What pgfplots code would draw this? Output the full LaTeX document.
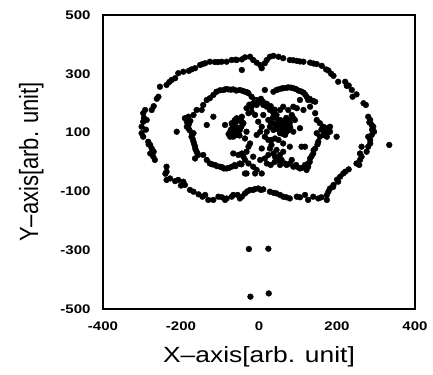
\documentclass[border=0pt]{standalone}
\usepackage{pgfplots}
\usepackage{pgfplotstable}
\usepackage{graphicx}
\usepackage{fontspec}
\setmainfont{Liberation Sans}
\pgfplotsset{compat=1.18}

% measured positions (x, y)
\pgfplotstableread{
x y
37 361
50 358
62 353
79 347
97 344
114 341
131 338
148 333
161 327
172 315
178 311
191 293
203 273
221 273
225 259
238 245
240 222
268 200
274 194
280 154
285 143
289 126
293 120
295 103
289 92
280 86
285 63
280 52
276 35
263 52
259 29
263 18
259 7
257 -10
221 -33
216 -39
208 -50
203 -67
191 -78
182 -90
178 -101
174 -112
174 -129
152 -124
139 -118
126 -129
118 -112
97 -118
79 -124
62 -118
54 -112
45 -107
28 -101
11 -93
-2 -90
-15 -95
-23 -95
-36 -107
-44 -118
-49 -124
-66 -112
-83 -124
-87 -129
-104 -118
-117 -129
-130 -129
-138 -112
-168 -101
-177 -95
-190 -78
-194 -67
-207 -61
-228 -56
-237 -61
-237 -33
-237 -16
-267 7
-271 18
-279 29
-275 46
-279 58
-284 69
-297 86
-301 98
-301 120
-297 137
-288 143
-297 166
-292 177
-275 177
-258 222
-254 256
-237 262
-224 279
-215 285
-207 302
-194 307
-173 315
-164 319
-151 330
-138 336
-126 341
-113 340
-96 341
-83 341
-70 347
-57 347
-44 349
-36 356
-23 358
-15 347
-6 338
3 330
7 319
15 336
20 347
28 358
-44 313
-290 110
-295 150
-283 60
-270 35
-240 -40
-215 -65
-200 -80
-155 -110
-145 -118
-95 -120
-70 -118
-55 -112
-30 -100
-10 -92
5 -95
38 -105
70 -120
105 -120
160 -120
190 -85
200 -60
230 -25
250 -5
285 75
290 110
283 135
250 230
230 260
185 300
140 335
105 342
88 346
-60 348
-105 340
-145 333
-180 310
-230 272
-262 215
-270 190
-126 217
-117 228
-109 239
-91 245
-79 247
-66 247
-49 245
-36 239
-27 234
-19 222
-10 211
-6 200
-100 244
-85 248
-72 246
-58 243
-42 242
-30 237
-134 211
-143 194
-147 177
-160 177
-168 160
-181 154
-190 149
-185 137
-185 120
-181 115
-211 103
-168 98
-173 86
-168 69
-164 52
-160 35
-156 24
-164 12
-143 24
-176 140
-180 128
-178 108
-172 95
-170 78
-166 60
-163 44
-158 30
-134 7
-126 -5
-113 -10
-100 -16
-83 -22
-70 -16
-62 -10
-49 -5
-120 -8
-108 -14
-94 -18
-77 -20
-60 -14
-45 -8
-90 -22
-36 7
-40 18
-44 29
-53 24
-66 29
-32 35
-27 52
-23 63
-15 18
-27 -5
-15 -16
-6 -27
7 -39
-10 -39
-36 -39
-134 126
-117 154
-87 126
-70 98
-74 103
-66 115
-70 132
-62 143
-57 149
-49 109
-57 92
-66 86
-74 86
-44 154
-44 137
-40 132
-32 103
-36 80
-72 110
-64 105
-60 120
-78 95
-68 125
-55 100
-62 130
-58 118
-52 112
-60 100
-66 95
-50 90
-45 120
-55 140
-48 145
-32 183
-19 188
-6 194
3 205
11 194
20 188
28 177
37 166
45 149
54 143
58 126
62 115
71 103
67 92
54 98
45 120
37 109
28 120
20 103
7 120
3 103
-6 92
-2 137
-10 160
-19 171
-27 166
11 160
24 143
15 86
24 75
32 58
28 46
37 29
45 41
54 24
50 7
41 18
24 24
7 46
15 12
20 -5
3 7
32 75
41 80
50 75
62 63
79 52
54 177
62 188
75 177
84 160
88 149
79 132
71 120
88 103
105 115
92 143
75 143
60 110
66 125
72 112
80 118
64 100
58 135
40 130
48 112
55 118
65 140
70 150
45 160
35 150
30 135
50 130
75 108
62 95
-5 210
5 215
10 205
-15 200
20 198
30 190
40 178
-25 195
15 245
37 239
50 247
62 251
75 254
88 251
101 243
114 236
122 222
126 211
144 205
45 245
58 250
70 252
82 253
95 248
108 240
118 230
130 215
138 208
105 211
88 188
97 183
114 177
131 188
144 166
148 143
156 132
165 120
174 115
182 120
178 103
174 86
182 103
199 86
148 98
156 86
152 69
144 46
139 29
131 12
126 -5
126 -16
122 -27
170 100
160 110
165 92
150 60
140 40
135 20
130 0
105 -22
97 -16
88 -16
79 -5
71 -10
58 7
54 -10
84 7
95 -10
110 -20
118 -10
66 -5
40 0
30 -10
62 35
109 52
118 52
-32 -39
-26 -296
24 -295
-22 -458
25 -447
334 58
}\points

\newcommand{\tl}[1]{\scalebox{1.2}[1]{#1}}

\begin{document}
\begin{tikzpicture}
\begin{axis}[
  scale only axis,
  width=312pt, height=294pt,
  xmin=-400, xmax=400, ymin=-500, ymax=500,
  xtick={-400,-200,0,200,400},
  xticklabels={\tl{-400},\tl{-200},\tl{0},\tl{200},\tl{400}},
  ytick={-500,-300,-100,100,300,500},
  yticklabels={\tl{-500},\tl{-300},\tl{-100},\tl{100},\tl{300},\tl{500}},
  major tick length=0pt,
  tick label style={font=\bfseries\fontsize{12.5}{13}\selectfont},
  xticklabel style={yshift=-9pt},
  yticklabel style={xshift=-9pt},
  axis line style={line width=1.1pt},
  xlabel={\scalebox{1.2}[1]{X–axis[arb. unit]}},
  ylabel={\scalebox{1}[1.2]{Y–axis[arb. unit]}},
  label style={font=\fontsize{22}{24}\selectfont},
  xlabel style={yshift=-9pt},
  ylabel style={yshift=10pt},
  clip=false,
]
\addplot[only marks, mark=*, mark size=2.9pt, black] table[x=x, y=y] {\points};
\coordinate (bl) at (rel axis cs:0,0);
\coordinate (tr) at (rel axis cs:1,1);
\end{axis}
\path[use as bounding box] ([shift={(-103pt,-65pt)}]bl) rectangle ([shift={(18pt,15pt)}]tr);
\end{tikzpicture}
\end{document}
